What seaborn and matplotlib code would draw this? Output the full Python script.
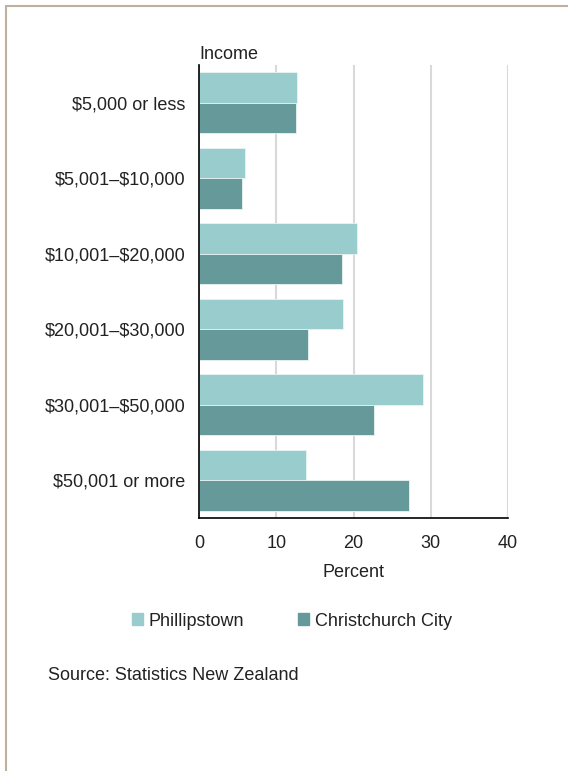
import matplotlib
matplotlib.use("Agg")
import matplotlib.pyplot as plt
import seaborn as sns
import pandas as pd
from matplotlib.lines import Line2D

# data
categories = ["$5,000 or less", "$5,001\u2013$10,000", "$10,001\u2013$20,000",
              "$20,001\u2013$30,000", "$30,001\u2013$50,000", "$50,001 or more"]
phillipstown = [12.7, 6.0, 20.5, 18.6, 29.0, 13.9]
christchurch = [12.5, 5.6, 18.5, 14.1, 22.7, 27.2]
series_names = ["Phillipstown", "Christchurch City"]
colors = ["#99CCCC", "#669999"]
x_ticks = [0, 10, 20, 30, 40]

df = pd.DataFrame({
    "Income": categories * 2,
    "Percent": phillipstown + christchurch,
    "Area": [series_names[0]] * len(categories) + [series_names[1]] * len(categories),
})

sns.set_style("white")
plt.rcParams["font.family"] = ["Liberation Sans", "DejaVu Sans"]
plt.rcParams["font.size"] = 13
plt.rcParams["text.parse_math"] = False  # dollar signs are literal

fig = plt.figure(figsize=(5.68, 7.71), dpi=100)
ax = fig.add_axes([199 / 568, 1 - 518 / 771, 309 / 568, 453 / 771])

sns.barplot(data=df, y="Income", x="Percent", hue="Area", orient="h",
            palette=colors, saturation=1, width=0.81, edgecolor="#E8F4F4",
            linewidth=0.6, ax=ax, legend=False, zorder=3)

ax.set_xlim(0, 40)
ax.set_xticks(x_ticks)
ax.grid(axis="x", color="#D9D9D9", linewidth=1.5, zorder=0)
ax.set_axisbelow(True)
for s in ["top", "right"]:
    ax.spines[s].set_visible(False)
for s in ["left", "bottom"]:
    ax.spines[s].set_color("black")
    ax.spines[s].set_linewidth(1.2)
    ax.spines[s].set_zorder(5)
ax.tick_params(axis="both", length=0, labelsize=13, colors="#222222")
ax.tick_params(axis="y", pad=10)
ax.tick_params(axis="x", pad=12)
ax.set_ylabel("")
ax.set_xlabel("Percent", fontsize=13, color="#222222", labelpad=9)
ax.text(0, 1.005, "Income", transform=ax.transAxes, fontsize=13,
        color="#222222", ha="left", va="bottom")

handles = [plt.Rectangle((0, 0), 1, 1, color=c) for c in colors]
fig.legend(handles, series_names, loc="center", bbox_to_anchor=(292 / 568, 1 - 621 / 771),
           ncol=2, frameon=False, fontsize=13, handlelength=0.6, handleheight=0.6,
           handletextpad=0.3, columnspacing=3.0, labelcolor="#222222")

fig.text(48 / 568, 1 - 676 / 771, "Source: Statistics New Zealand", fontsize=13,
         color="#222222", ha="left", va="center")

# frame lines at top and left of the panel
fig.add_artist(Line2D([6 / 568, 1], [1 - 5.5 / 771, 1 - 5.5 / 771], color="#BFB1A0", linewidth=1.5))
fig.add_artist(Line2D([6 / 568, 6 / 568], [0, 1 - 5.5 / 771], color="#BFB1A0", linewidth=1.5))

fig.savefig("out.png", dpi=100)
